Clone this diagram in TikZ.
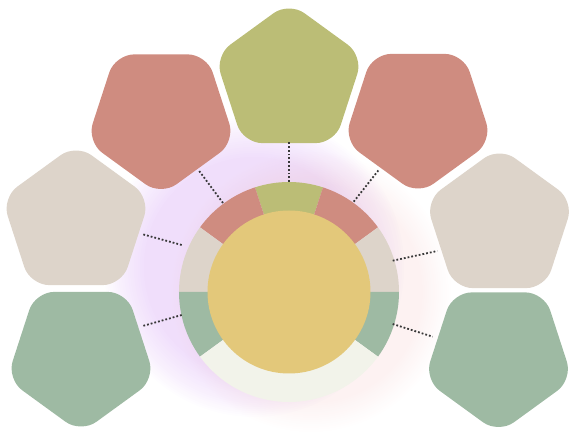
\documentclass[tikz,border=0pt]{standalone}
\usetikzlibrary{shapes.geometric}
\definecolor{olivefill}{HTML}{BBBD76}
\definecolor{redfill}{HTML}{CF8C80}
\definecolor{beigefill}{HTML}{DDD4CA}
\definecolor{greenfill}{HTML}{9EBAA3}
\definecolor{palefill}{HTML}{F2F3EA}
\definecolor{hubfill}{HTML}{E3C87A}
\definecolor{glowpurple}{HTML}{C98AF2}
\definecolor{glowpink}{HTML}{F2B8B8}
\tikzset{
  pentbox/.style={regular polygon, regular polygon sides=5, minimum size=156pt, inner sep=0pt, rounded corners=19pt},
  linkline/.style={line width=1.8pt, dash pattern=on 1.8pt off 2pt, draw=black!78}
}

\begin{document}
\begin{tikzpicture}[x=1pt, y=1pt]
  \useasboundingbox (-289,-154) rectangle (286,292);
  % soft glow behind the ring
  \foreach \r in {110,112,...,150}
    \fill[glowpurple, opacity=0.014] (-35,25) circle (\r);
  \foreach \r in {110,112,...,140}
    \fill[glowpink, opacity=0.01] (22,0) circle (\r);

  % outer pentagons
  \node[pentbox, fill=olivefill] (ptop) at (0,212) {};
  \node[pentbox, fill=redfill, shape border rotate=36] (pred1) at (-128,174.5) {};
  \node[pentbox, fill=redfill, shape border rotate=36] (pred2) at (129,175) {};
  \node[pentbox, fill=beigefill] (pbeige1) at (-213,70) {};
  \node[pentbox, fill=beigefill] (pbeige2) at (210.5,67) {};
  \node[pentbox, fill=greenfill, shape border rotate=36] (pgreen1) at (-208,-63) {};
  \node[pentbox, fill=greenfill, shape border rotate=36] (pgreen2) at (209.5,-63.5) {};

  % ring of segments
  \fill[olivefill] (0,0) -- (72:110) arc[start angle=72, end angle=108, radius=110] -- cycle;
  \fill[redfill] (0,0) -- (108:110) arc[start angle=108, end angle=144, radius=110] -- cycle;
  \fill[redfill] (0,0) -- (36:110) arc[start angle=36, end angle=72, radius=110] -- cycle;
  \fill[beigefill] (0,0) -- (144:110) arc[start angle=144, end angle=180, radius=110] -- cycle;
  \fill[beigefill] (0,0) -- (0:110) arc[start angle=0, end angle=36, radius=110] -- cycle;
  \fill[greenfill] (0,0) -- (180:110) arc[start angle=180, end angle=216, radius=110] -- cycle;
  \fill[greenfill] (0,0) -- (-36:110) arc[start angle=-36, end angle=0, radius=110] -- cycle;
  \fill[palefill] (0,0) -- (216:110) arc[start angle=216, end angle=324, radius=110] -- cycle;
  \node[circle, fill=hubfill, minimum size=163pt, inner sep=0pt] (hub) at (0,0) {};

  % dotted links
  \coordinate (rtop) at (0,110);      \coordinate (etop) at (0,150);
  \coordinate (rred1) at (-66,89);    \coordinate (ered1) at (-90.5,122);
  \coordinate (rred2) at (64.7,90.3); \coordinate (ered2) at (89.7,122);
  \coordinate (rbeige1) at (-107.3,47); \coordinate (ebeige1) at (-147.3,58);
  \coordinate (rbeige2) at (103.7,31.3); \coordinate (ebeige2) at (148.3,41);
  \coordinate (rgreen1) at (-107.3,-23); \coordinate (egreen1) at (-146.3,-34);
  \coordinate (rgreen2) at (103.7,-32); \coordinate (egreen2) at (143.7,-44.7);
  \draw[linkline] (rtop) -- (etop);
  \draw[linkline] (rred1) -- (ered1);
  \draw[linkline] (rred2) -- (ered2);
  \draw[linkline] (rbeige1) -- (ebeige1);
  \draw[linkline] (rbeige2) -- (ebeige2);
  \draw[linkline] (rgreen1) -- (egreen1);
  \draw[linkline] (rgreen2) -- (egreen2);
\end{tikzpicture}
\end{document}
